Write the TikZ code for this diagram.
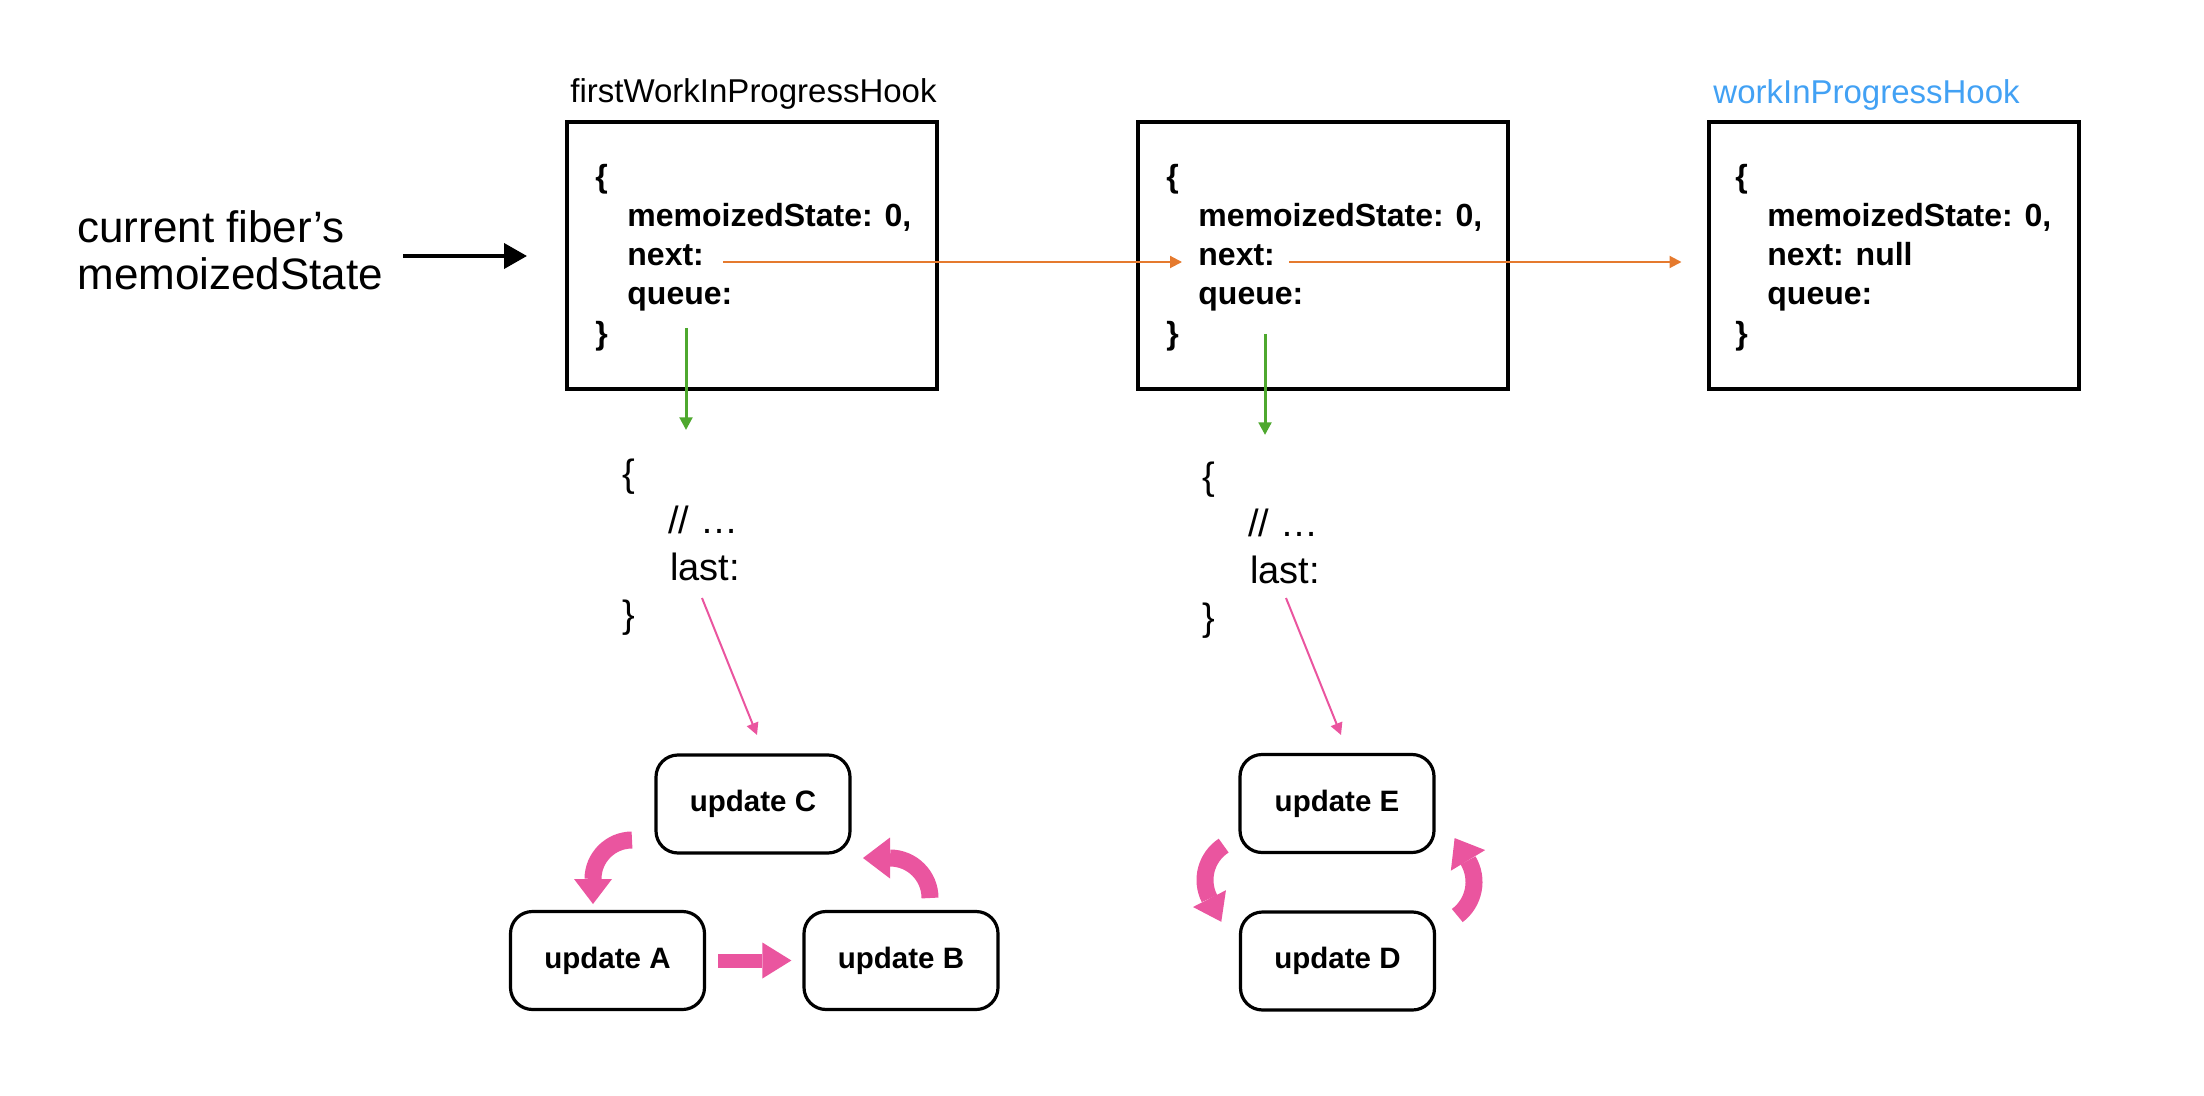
\documentclass[tikz,border=0pt]{standalone}
\usepackage{fontspec}
\setmainfont{Liberation Sans}
\usetikzlibrary{arrows.meta,calc}
\definecolor{orangec}{RGB}{229,122,46}
\definecolor{greenc}{RGB}{78,168,46}
\definecolor{pinkc}{RGB}{234,85,159}
\definecolor{bluec}{RGB}{66,161,244}
\newcommand\pinkarc[6]{%
  \draw[pinkc, line width=8.5pt] ($(#1)+({#3}:{#2})$) arc[start angle=#3, end angle=#4, radius=#2];
  \fill[pinkc] ($(#1)+({#4}:{#2-#5})$) -- ($(#1)+({#4}:{#2+#5})$) -- ($(#1)+({#4}:{#2})+({#4+90}:{#6})$) -- cycle;
}
\begin{document}
\begin{tikzpicture}[x=0.5pt,y=0.5pt,
  hookbox/.style={draw, line width=2pt, minimum width=185pt, minimum height=133.5pt, inner sep=0pt},
  codeln/.style={anchor=base west, inner sep=0pt, font=\fontsize{16}{19.5}\selectfont\bfseries},
  qln/.style={anchor=base west, inner sep=0pt, font=\fontsize{19}{23.5}\selectfont},
  lblln/.style={anchor=base west, inner sep=0pt, font=\fontsize{22}{23.5}\selectfont},
  titleln/.style={anchor=base west, inner sep=0pt, font=\fontsize{16.5}{20}\selectfont},
  upd/.style={draw, line width=1.6pt, rounded corners=11pt, minimum width=97pt, minimum height=49pt, inner sep=0pt, font=\fontsize{14.75}{17}\selectfont\bfseries},
  blackarr/.style={line width=2pt, -{Triangle[length=11.5pt,width=12.5pt]}},
  orangearr/.style={orangec, line width=1pt, -{Triangle[length=6pt,width=6pt]}},
  greenarr/.style={greenc, line width=1.5pt, -{Triangle[length=6.3pt,width=6.3pt]}},
  pinkarr/.style={pinkc, line width=1pt, -{Triangle[length=6pt,width=6pt]}}
]
\useasboundingbox (0,0) rectangle (2204,-1096);

% left label
\node[lblln] (cur1) at (77,-243) {current fiber’s};
\node[lblln] (cur2) at (77,-290) {memoizedState};

% hook boxes
\node[hookbox] (box1) at (752,-255.5) {};
\node[hookbox] (box2) at (1323,-255.5) {};
\node[hookbox] (box3) at (1893.5,-255.5) {};
\node[titleln] (t1) at (570,-103) {firstWorkInProgressHook};
\node[titleln, text=bluec] (t3) at (1713,-104) {workInProgressHook};

% box 1 text
\node[codeln] (b1o) at (595,-188) {\{};
\node[codeln] (mem1) at (627,-227) {memoizedState: 0,};
\node[codeln] (next1) at (627,-266) {next:};
\node[codeln] (queue1) at (627,-305) {queue:};
\node[codeln] (b1c) at (595,-344) {\}};
% box 2 text
\node[codeln] (b2o) at (1166,-188) {\{};
\node[codeln] (mem2) at (1198,-227) {memoizedState: 0,};
\node[codeln] (next2) at (1198,-266) {next:};
\node[codeln] (queue2) at (1198,-305) {queue:};
\node[codeln] (b2c) at (1166,-344) {\}};
% box 3 text
\node[codeln] (b3o) at (1735,-188) {\{};
\node[codeln] (mem3) at (1767,-227) {memoizedState: 0,};
\node[codeln] (next3) at (1767,-266) {next: null};
\node[codeln] (queue3) at (1767,-305) {queue:};
\node[codeln] (b3c) at (1735,-344) {\}};

% queue objects
\node[qln] (q1o) at (622,-486) {\{};
\node[qln] (q1d) at (668,-533) {// …};
\node[qln] (last1) at (670,-580) {last:};
\node[qln] (q1c) at (622,-627) {\}};
\node[qln] (q2o) at (1202,-489) {\{};
\node[qln] (q2d) at (1248,-536) {// …};
\node[qln] (last2) at (1250,-583) {last:};
\node[qln] (q2c) at (1202,-630) {\}};

% update nodes
\node[upd] (updC) at (753,-804) {update C};
\node[upd] (updA) at (607.5,-960.5) {update A};
\node[upd] (updB) at (901,-960.5) {update B};
\node[upd] (updE) at (1337,-803.5) {update E};
\node[upd] (updD) at (1337.5,-961) {update D};

% black arrow
\coordinate (fa) at (403,-256);
\draw[blackarr] (fa) -- ([xshift=-19pt]box1.west |- fa);

% orange arrows
\coordinate (o1) at ([shift={(9.5pt,2pt)}]next1.base east);
\draw[orangearr] (o1) -- ([xshift=-8pt]next2.base west |- o1);
\coordinate (o2) at ([shift={(7pt,2pt)}]next2.base east);
\draw[orangearr] (o2) -- ([xshift=-12.5pt]box3.west |- o2);

% green arrows
\coordinate (g1s) at (686,-328);
\coordinate (g1e) at (686,-430);
\draw[greenarr] (g1s) -- (g1e);
\coordinate (g2s) at (1265,-334);
\coordinate (g2e) at (1265,-435);
\draw[greenarr] (g2s) -- (g2e);

% pink thin arrows
\coordinate (p1s) at (702,-598);
\coordinate (p1e) at (757,-735);
\draw[pinkarr] (p1s) -- (p1e);
\coordinate (p2s) at (1286,-598);
\coordinate (p2e) at (1341,-735);
\draw[pinkarr] (p2s) -- (p2e);

% thick pink cycle arrows, left cluster
\coordinate (cca) at (632,-879);
\pinkarc{cca}{39}{90}{180}{19}{25}
\coordinate (cbc) at (890,-898);
\pinkarc{cbc}{40}{0}{90}{20.5}{27}
\coordinate (abs) at ([xshift=6pt]updA.east);
\coordinate (abh) at ([xshift=-20pt]updB.west);
\coordinate (abt) at ([xshift=-5.5pt]updB.west);
\draw[pinkc, line width=7pt] (abs) -- (abh);
\fill[pinkc] ($(abh)+(0,18)$) -- ($(abh)+(0,-18)$) -- (abt) -- cycle;

% thick pink cycle arrows, right cluster
\coordinate (ced) at (1246,-880);
\pinkarc{ced}{41}{123}{207}{18.5}{26}
\coordinate (cde) at (1432,-882);
\pinkarc{cde}{42}{-53}{31}{20}{26}
\end{tikzpicture}
\end{document}
